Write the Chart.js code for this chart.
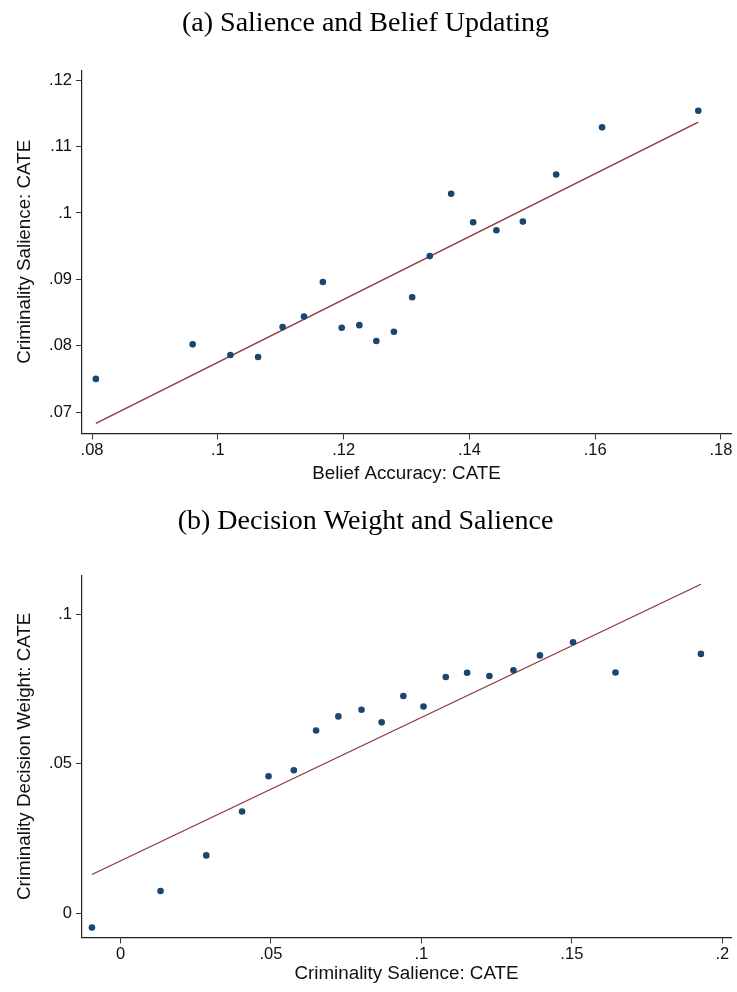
<!DOCTYPE html>
<html>
<head>
<meta charset="utf-8">
<script src="https://cdn.jsdelivr.net/npm/chart.js@4"></script>
<style>
  html, body { margin: 0; padding: 0; background: #fff; }
  #wrap { position: relative; width: 737px; height: 992px; }
  canvas { position: absolute; left: 0; }
  #chart-a { top: 0; }
  #chart-b { top: 496px; }
</style>
</head>
<body>
<div id="wrap">
  <canvas id="chart-a" width="737" height="496"></canvas>
  <canvas id="chart-b" width="737" height="496"></canvas>
</div>
<script>
// (a) binned scatter: belief accuracy vs criminality salience
const beliefX = [0.0806, 0.0960, 0.1020, 0.1064, 0.1103, 0.1137, 0.1167, 0.1197, 0.1225, 0.1252,
                 0.1280, 0.1309, 0.1337, 0.1371, 0.1406, 0.1443, 0.1485, 0.1538, 0.1611, 0.1764];
const salienceY = [0.0750, 0.0802, 0.0786, 0.0783, 0.0828, 0.0844, 0.0896, 0.0827, 0.0831, 0.0807,
                   0.0821, 0.0873, 0.0935, 0.1029, 0.0986, 0.0974, 0.0987, 0.1058, 0.1129, 0.1154];
const fitAx = [0.0806, 0.1764];
const fitAy = [0.0683, 0.1137];
const ticksAx = [0.08, 0.10, 0.12, 0.14, 0.16, 0.18];
const labelsAx = ['.08', '.1', '.12', '.14', '.16', '.18'];
const ticksAy = [0.07, 0.08, 0.09, 0.10, 0.11, 0.12];
const labelsAy = ['.07', '.08', '.09', '.1', '.11', '.12'];

// (b) binned scatter: criminality salience vs decision weight
const salienceX = [-0.0095, 0.0133, 0.0285, 0.0404, 0.0492, 0.0576, 0.0650, 0.0724, 0.0801, 0.0868,
                   0.0940, 0.1007, 0.1081, 0.1152, 0.1226, 0.1306, 0.1394, 0.1504, 0.1645, 0.1929];
const weightY = [-0.0048, 0.0074, 0.0193, 0.0340, 0.0458, 0.0478, 0.0611, 0.0658, 0.0680, 0.0638,
                 0.0726, 0.0691, 0.0790, 0.0804, 0.0793, 0.0812, 0.0862, 0.0906, 0.0805, 0.0867];
const fitBx = [-0.0095, 0.1929];
const fitBy = [0.0129, 0.1100];
const ticksBx = [0, 0.05, 0.10, 0.15, 0.20];
const labelsBx = ['0', '.05', '.1', '.15', '.2'];
const ticksBy = [0, 0.05, 0.10];
const labelsBy = ['0', '.05', '.1'];

const DOT = '#1a476f';
const FIT = '#90353b';
const SANS = "'Liberation Sans', Arial, sans-serif";
const SERIF = "'Liberation Serif', 'Times New Roman', serif";

const pairs = (xs, ys) => xs.map((x, i) => ({ x: x, y: ys[i] }));

function axis(opts) {
  return {
    type: 'linear',
    position: opts.position,
    min: opts.min,
    max: opts.max,
    grid: { display: true, drawOnChartArea: false, drawTicks: true, tickLength: 6, color: '#333', lineWidth: 1 },
    border: { display: true, color: '#222', width: 1.2 },
    ticks: {
      color: '#111',
      padding: opts.tickPad,
      font: { family: SANS, size: 16.5 },
      callback: (v) => {
        const i = opts.ticks.findIndex(t => Math.abs(t - v) < 1e-9);
        return i >= 0 ? opts.labels[i] : '';
      }
    },
    title: {
      display: true,
      text: opts.title,
      color: '#111',
      font: { family: SANS, size: 18.8 },
      padding: opts.titlePad
    },
    afterBuildTicks: (scale) => {
      scale.ticks = opts.ticks.map(v => ({ value: v }));
    },
    afterFit: (scale) => {
      if (opts.position === 'left') {
        scale.width = opts.size;
        scale.paddingTop = 0;
        scale.paddingBottom = 0;
      } else {
        scale.height = opts.size;
        scale.paddingLeft = 0;
        scale.paddingRight = 0;
      }
    }
  };
}

function makeChart(id, cfg) {
  return new Chart(document.getElementById(id), {
    type: 'scatter',
    data: {
      datasets: [{
        type: 'scatter',
        data: pairs(cfg.xs, cfg.ys),
        backgroundColor: DOT,
        borderColor: DOT,
        borderWidth: 0,
        pointRadius: 3.3,
        order: 1
      }, {
        type: 'line',
        data: pairs(cfg.fitX, cfg.fitY),
        borderColor: FIT,
        borderWidth: 1.3,
        pointRadius: 0,
        fill: false,
        order: 2
      }]
    },
    options: {
      responsive: false,
      animation: false,
      layout: { padding: { left: 0, right: 6, top: 0, bottom: 0 } },
      plugins: {
        legend: { display: false },
        tooltip: { enabled: false },
        title: {
          display: true,
          text: cfg.heading,
          color: '#000',
          font: { family: SERIF, size: 28, weight: 'normal' },
          padding: cfg.headPad
        }
      },
      scales: {
        x: axis({ position: 'bottom', min: cfg.xMin, max: cfg.xMax, ticks: cfg.xTicks, labels: cfg.xLabels,
                  title: cfg.xTitle, size: cfg.xSize, tickPad: 1.5, titlePad: cfg.xTitlePad }),
        y: axis({ position: 'left', min: cfg.yMin, max: cfg.yMax, ticks: cfg.yTicks, labels: cfg.yLabels,
                  title: cfg.yTitle, size: 82, tickPad: 4, titlePad: { top: 13.5, bottom: 0 } })
      }
    }
  });
}

makeChart('chart-a', {
  heading: '(a) Salience and Belief Updating',
  headPad: { top: 6.5, bottom: 30.2 },
  xs: beliefX, ys: salienceY, fitX: fitAx, fitY: fitAy,
  xMin: 0.0784, xMax: 0.1816, xTicks: ticksAx, xLabels: labelsAx,
  yMin: 0.0668, yMax: 0.1215, yTicks: ticksAy, yLabels: labelsAy,
  xTitle: 'Belief Accuracy: CATE', yTitle: 'Criminality Salience: CATE',
  xSize: 62.7, xTitlePad: { top: 0, bottom: 10.5 }
});

makeChart('chart-b', {
  heading: '(b) Decision Weight and Salience',
  headPad: { top: 8.5, bottom: 37.2 },
  xs: salienceX, ys: weightY, fitX: fitBx, fitY: fitBy,
  xMin: -0.0128, xMax: 0.2029, xTicks: ticksBx, xLabels: labelsBx,
  yMin: -0.0081, yMax: 0.1130, yTicks: ticksBy, yLabels: labelsBy,
  xTitle: 'Criminality Salience: CATE', yTitle: 'Criminality Decision Weight: CATE',
  xSize: 54.7, xTitlePad: { top: 0, bottom: 7.2 }
});
</script>
</body>
</html>
